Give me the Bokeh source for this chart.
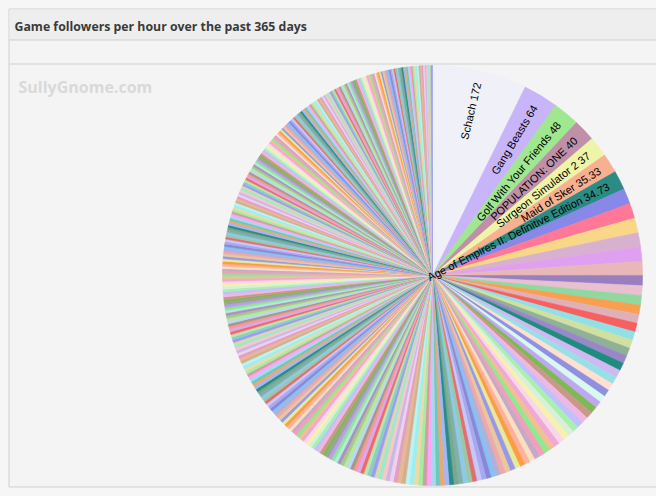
import math
import numpy as np
from bokeh.plotting import figure
from bokeh.models import ColumnDataSource, Range1d
from bokeh.embed import file_html
from bokeh.resources import INLINE
from bokeh.core.properties import value

# ---------------- data ----------------
chart_title = "Game followers per hour over the past 365 days"
watermark = "SullyGnome.com"

labelled_names = ["Schach", "Gang Beasts", "Golf With Your Friends", "POPULATION: ONE",
                  "Surgeon Simulator 2", "Maid of Sker", "Age of Empires II: Definitive Edition"]
labelled_values = [172, 64, 48, 40, 37, 35.33, 34.73]

values_a = [28.1, 27.4, 26.8, 26.2, 25.7, 25.1]
values_b = [18.4, 17.9, 17.2, 16.8, 16.3, 15.9, 15.5, 15.1, 14.8, 14.5, 14.2, 13.9, 13.6,
            13.3, 13.0, 12.8, 12.5, 12.3, 12.1, 11.8, 11.6]
values_c = [11.4, 11.2, 11.0, 10.9, 10.7, 10.5, 10.4, 10.2, 10.1, 9.9, 9.8, 9.7, 9.5, 9.4,
            9.3, 9.2, 9.0, 8.9, 8.8, 8.7, 8.6, 8.5, 8.5, 8.4, 8.3, 8.3, 8.2, 8.2, 8.1, 8.1,
            8.0, 8.0]
values_d = [7.9, 7.8, 7.7, 7.6, 7.5, 7.4, 7.3, 7.2, 7.1, 7.0, 7.0, 6.9, 6.8, 6.8, 6.7,
            6.6, 6.6, 6.5, 6.5, 6.4, 6.4, 6.3, 6.3, 6.2, 6.2, 6.1, 6.1, 6.0, 6.0, 6.0,
            5.9, 5.9, 5.9, 5.8, 5.8, 5.8, 5.7, 5.7, 5.7, 5.7, 5.6, 5.6, 5.6, 5.6, 5.6]
values_e = [5.5, 5.5, 5.5, 5.5, 5.5, 5.5, 5.4, 5.4, 5.4, 5.4, 5.4, 5.4,
            5.3, 5.3, 5.3, 5.3, 5.3, 5.3, 5.2, 5.2, 5.2, 5.2, 5.2, 5.2,
            5.1, 5.1, 5.1, 5.1, 5.1, 5.1, 5.0, 5.0, 5.0, 5.0, 5.0, 5.0, 5.0, 5.0,
            4.9, 4.9, 4.9, 4.9, 4.9, 4.9, 4.8, 4.8, 4.8, 4.8, 4.8, 4.8,
            4.7, 4.7, 4.7, 4.7, 4.6, 4.6, 4.6, 4.6]
values_f = [4.5, 4.5, 4.5, 4.5, 4.5, 4.5, 4.5, 4.4, 4.4, 4.4, 4.4, 4.4, 4.4, 4.4,
            4.3, 4.3, 4.3, 4.3, 4.3, 4.3, 4.3, 4.3, 4.2, 4.2, 4.2, 4.2, 4.2, 4.2, 4.2, 4.2,
            4.1, 4.1, 4.1, 4.1, 4.1, 4.1, 4.1, 4.1, 4.0, 4.0, 4.0, 4.0, 4.0, 4.0, 4.0, 4.0, 4.0,
            3.9, 3.9, 3.9, 3.9, 3.9, 3.9, 3.9, 3.9, 3.8, 3.8, 3.8, 3.8, 3.8, 3.8, 3.8,
            3.7, 3.7, 3.7, 3.7, 3.7, 3.7, 3.6, 3.6, 3.6, 3.6, 3.6]
values_g = [3.5, 3.5, 3.5, 3.5, 3.5, 3.5, 3.5, 3.5, 3.4, 3.4, 3.4, 3.4, 3.4, 3.4, 3.4, 3.4, 3.4,
            3.3, 3.3, 3.3, 3.3, 3.3, 3.3, 3.3, 3.3, 3.3, 3.3,
            3.2, 3.2, 3.2, 3.2, 3.2, 3.2, 3.2, 3.2, 3.2, 3.2, 3.2,
            3.1, 3.1, 3.1, 3.1, 3.1, 3.1, 3.1, 3.1, 3.1, 3.1, 3.1, 3.1,
            3.0, 3.0, 3.0, 3.0, 3.0, 3.0, 3.0, 3.0, 3.0, 3.0, 3.0, 3.0, 3.0,
            2.9, 2.9, 2.9, 2.9, 2.9, 2.9, 2.9, 2.9, 2.9, 2.9, 2.9, 2.9,
            2.8, 2.8, 2.8, 2.8, 2.8, 2.8, 2.8, 2.8, 2.8, 2.8, 2.8,
            2.7, 2.7, 2.7, 2.7, 2.7, 2.7, 2.7, 2.7]

# ---------------- styles ----------------
first_colors = ["#f0f0f8", "#c8b4f8", "#a0e890", "#c090a8", "#eef5a8", "#f8b090", "#2a8c84",
                "#8888e8", "#ff7898", "#f8d888", "#d8b0d0", "#e0a0f0", "#e8b8b8", "#9880c0",
                "#e8c0d0", "#90d8a0", "#f8a050", "#e0b0b8", "#f86060", "#90e0e8", "#d0e0a0",
                "#90b098", "#9888c8", "#208c80", "#d0b8f0", "#98e0e8", "#ffe0d0", "#9090e0",
                "#d8f8f0", "#c0a8f0"]
palette = ["#a8d8f0", "#f0a8a8", "#a8f0b0", "#d8a8f0", "#f0d8a8", "#a8a8f0", "#f0a8d8", "#b8e8a0",
           "#e8b890", "#90c8e8", "#c8a8c8", "#98e098", "#f8c8c8", "#a0b8f8", "#e8e8a0", "#c89888",
           "#88d0c0", "#f8a8f8", "#b0b0d8", "#d8f0d8", "#f89898", "#98f0f0", "#c8c8f8", "#f0c090",
           "#a8c890", "#e0a0c0", "#80b0a8", "#f8e0c0", "#b8a0f0", "#a0e8c8", "#e8a878", "#9898e8",
           "#f0b8e0", "#c0e0b0", "#d0a0a0", "#88c0f0", "#f8f0b0", "#a89888", "#c0f0f0", "#e07070",
           "#90e890", "#b090c0", "#f0d0f0", "#78a890", "#ffb0a0", "#a0a0a0", "#d8d8b0", "#70c8b8",
           "#e8c8a0", "#c0c0ff", "#f06868", "#a0f0a0", "#8888d8", "#f8d8e8", "#b8d8f8", "#d0b090",
           "#98c8a8", "#f0a0b8", "#a8f0d8", "#c8b8e8", "#2a8c84", "#f8a040", "#80b858", "#9c9cf0"]

W, H = 656, 496
PAGE_BG = "#f6f6f6"
PANEL_BG = "#f4f4f4"
HEADER_BG = "#eeeeee"
BORDER = "#cfcfcf"

def py(page_y):
    return H - page_y

def px(page_x):
    return page_x

values = labelled_values + values_a + values_b + values_c + values_d + values_e + values_f + values_g
total = float(sum(values))
cum = np.concatenate([[0.0], np.cumsum(values)])
start = math.pi / 2 - cum[:-1] / total * 2 * math.pi
end = math.pi / 2 - cum[1:] / total * 2 * math.pi
n = len(values)
colors = [first_colors[i] if i < len(first_colors) else palette[(i * 17) % len(palette)]
          for i in range(n)]

cx, cy, R = px(432), py(275), 210

p = figure(width=W, height=H, x_range=Range1d(0, W), y_range=Range1d(0, H),
           output_backend="svg", toolbar_location=None, min_border=0,
           x_axis_location=None, y_axis_location=None)
p.grid.visible = False
p.outline_line_color = None
p.background_fill_color = PAGE_BG
p.border_fill_color = PAGE_BG

# panel
p.quad(left=[px(8.5)], right=[W + 20], top=[py(8.5)], bottom=[py(486.5)],
       fill_color=PANEL_BG, line_color=BORDER, line_width=1)
p.quad(left=[px(9)], right=[W + 20], top=[py(9)], bottom=[py(39.5)],
       fill_color=HEADER_BG, line_color=None)
p.segment(x0=[px(9), px(9)], y0=[py(39.5), py(63.5)], x1=[W + 20, W + 20], y1=[py(39.5), py(63.5)],
          line_color=BORDER, line_width=1)

p.text(x=[px(14)], y=[py(26)], text=[chart_title], text_font=value("Open Sans"),
       text_font_style="bold", text_font_size="12.3px", text_color="#3a3a3a",
       text_baseline="middle", text_align="left")
p.text(x=[px(18)], y=[py(86)], text=[watermark], text_font=value("Open Sans"),
       text_font_style="bold", text_font_size="16px", text_color="#d9d9d9",
       text_baseline="middle", text_align="left")

src = ColumnDataSource(dict(start=start, end=end, color=colors))
p.wedge(x=cx, y=cy, radius=R, start_angle="start", end_angle="end", direction="clock",
        fill_color="color", line_color="color", line_width=0.6, source=src)

k = len(labelled_values)
mid = (start[:k] + end[:k]) / 2
r_lab = 198
lab_src = ColumnDataSource(dict(
    x=cx + r_lab * np.cos(mid), y=cy + r_lab * np.sin(mid), angle=mid,
    text=[f"{nm} {v:g}" for nm, v in zip(labelled_names, labelled_values)]))
p.text(x="x", y="y", text="text", angle="angle", source=lab_src,
       text_font=value("Liberation Sans"), text_font_size="11px", text_color="#000000",
       text_align="right", text_baseline="middle")

html = file_html(p, INLINE)
html = html.replace("<head>", "<head><style>html,body{margin:0;padding:0;background:%s;}</style>" % PAGE_BG, 1)
open("out.html", "w").write(html)
